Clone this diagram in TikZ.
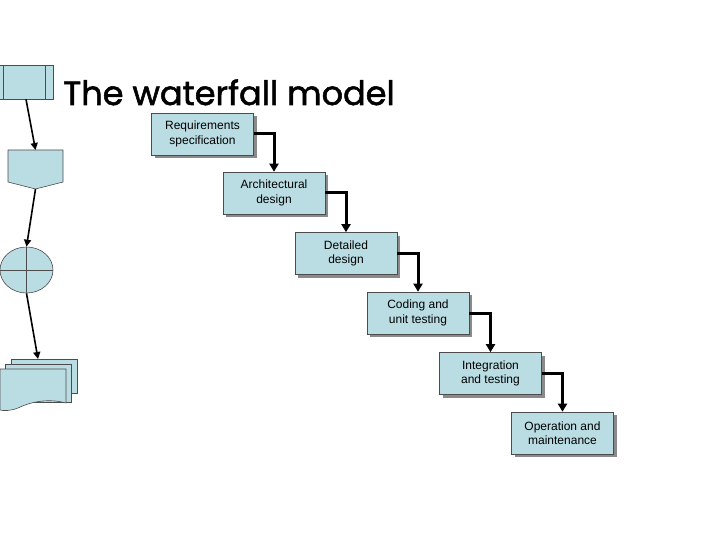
\documentclass[tikz,border=0pt]{standalone}
\usepackage{fontspec}
\setmainfont{Liberation Sans}
\newfontfamily\titlefont[FakeBold=1.6]{Poppins}
\usetikzlibrary{positioning,arrows.meta,calc,shapes.geometric,shadows}
\definecolor{cFill}{HTML}{BADDE4}
\definecolor{cInk}{HTML}{000000}
\definecolor{cShade}{HTML}{8A8A8A}

\begin{document}
\begin{tikzpicture}[x=1pt,y=-1pt,
      stage/.style={draw=cInk!70,fill=cFill,line width=0.6pt,minimum width=102pt,minimum height=42pt,
                    inner sep=0pt,align=center,font=\fontsize{12}{14.5}\selectfont,
                    general shadow={fill=cShade,shadow xshift=3pt,shadow yshift=-3pt}},
      sym/.style={draw=cInk!70,fill=cFill,line width=0.6pt},
      flow/.style={-{Triangle[length=8pt,width=9pt]},cInk,line width=3pt},
      lflow/.style={-{Triangle[length=7pt,width=7pt]},cInk,line width=1.6pt}]
    \useasboundingbox (0,0) rectangle (720,540);
    % title
    \node[anchor=base west,inner sep=0pt,font=\titlefont\fontsize{33.5}{36}\selectfont] (title) at (63,105) {The waterfall model};
    % stages
    \node[stage] (req) at (202.5,134) {Requirements\\specification};
    \node[stage] (arc) at (274,193)   {Architectural\\design};
    \node[stage] (det) at (346,253.5) {Detailed\\design};
    \node[stage] (cod) at (418,313)   {Coding and\\unit testing};
    \node[stage] (int) at (490.5,373.5) {Integration\\and testing};
    \node[stage] (ope) at (562.5,433) {Operation and\\maintenance};
    \draw[flow] (req.east) -| (arc.north);
    \draw[flow] (arc.east) -| (det.north);
    \draw[flow] (det.east) -| (cod.north);
    \draw[flow] (cod.east) -| (int.north);
    \draw[flow] (int.east) -| (ope.north);
    % flowchart symbols on the left
    \node[sym,minimum width=58pt,minimum height=34pt,inner sep=0pt,
          path picture={\draw[cInk!70,line width=0.6pt]
            ($(path picture bounding box.north west)+(8,0)$) -- ($(path picture bounding box.south west)+(8,0)$)
            ($(path picture bounding box.north east)+(-8,0)$) -- ($(path picture bounding box.south east)+(-8,0)$);}]
      (proc) at (24,82) {};
    \draw[sym] (8,150) -- (63,150) -- (63,182) -- (35.5,189) -- (8,182) -- cycle;
    \coordinate (opc) at (35.5,150);
    \coordinate (opctip) at (35.5,189);
    \node[sym,ellipse,minimum width=53pt,minimum height=46pt,inner sep=0pt,
          path picture={\draw[cInk!70,line width=0.6pt]
            (path picture bounding box.north) -- (path picture bounding box.south)
            (path picture bounding box.west) -- (path picture bounding box.east);}]
      (sum) at (26.5,270) {};
    \draw[sym] (11,359) rectangle (77,393);
    \draw[sym] (5.5,364) rectangle (71.5,402);
    \draw[sym] (0,369) -- (66,369) -- (66,403) .. controls (48,398) and (30,402) .. (18,408)
      .. controls (10,411) and (4,411) .. (0,410) -- cycle;
    \coordinate (docs) at (38,359);
    \draw[lflow] ($(proc.south)+(2,0)$) -- (opc);
    \draw[lflow] (opctip) -- (sum.north);
    \draw[lflow] (sum.south) -- (docs);
  \end{tikzpicture}
\end{document}
